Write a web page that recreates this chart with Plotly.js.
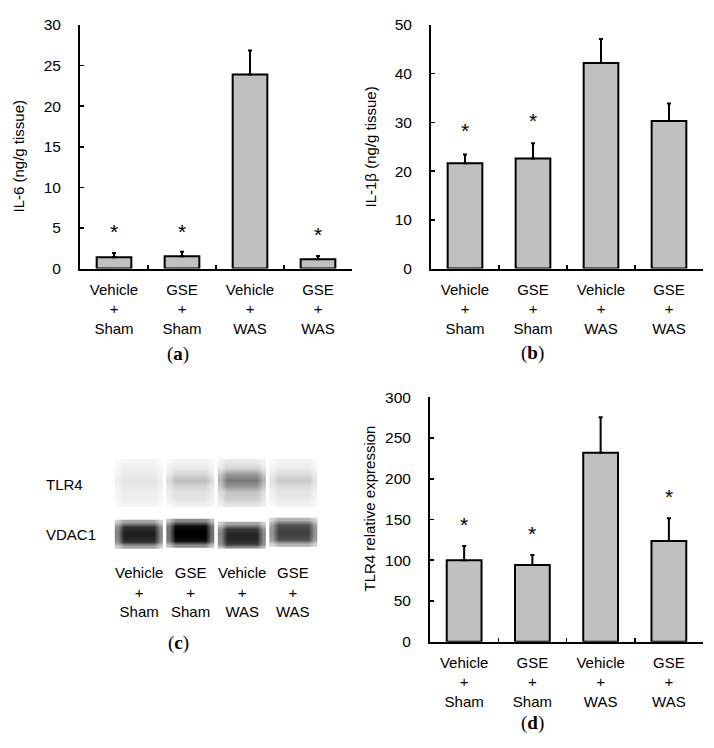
<!DOCTYPE html>
<html>
<head>
<meta charset="utf-8">
<script src="https://cdn.plot.ly/plotly-3.0.1.min.js"></script>
<style>html,body{margin:0;padding:0;background:#fff;}#chart{width:714px;height:748px;}</style>
</head>
<body>
<div id="chart"></div>
<script>
// ---------- data ----------
const categories = ['Vehicle<br>+<br>Sham', 'GSE<br>+<br>Sham', 'Vehicle<br>+<br>WAS', 'GSE<br>+<br>WAS'];

const il6Mean = [1.4, 1.5, 23.9, 1.15];
const il6Err = [0.5, 0.55, 2.95, 0.4];
const il6Star = [5.0, 5.0, null, 4.7];

const il1bMean = [21.6, 22.6, 42.2, 30.3];
const il1bErr = [1.8, 3.1, 4.9, 3.6];
const il1bStar = [29.1, 31.3, null, null];

const tlr4Mean = [100, 94, 232, 123.5];
const tlr4Err = [17.5, 12.4, 43.4, 27.9];
const tlr4Star = [149, 138, null, 183];

const blotLanes = [1, 2, 3, 4];
const blotLaneLabels = categories;
const blotRowLabels = ['TLR4', 'VDAC1'];
// band darkness (0 = white, 1 = black), top to bottom, per lane
const tlr4Band = [
  [0.04, 0.06, 0.08, 0.11, 0.09, 0.07, 0.07, 0.04],
  [0.05, 0.09, 0.16, 0.26, 0.17, 0.12, 0.11, 0.06],
  [0.09, 0.17, 0.40, 0.53, 0.41, 0.23, 0.20, 0.11],
  [0.05, 0.08, 0.14, 0.21, 0.14, 0.10, 0.09, 0.05]
];
const vdac1Band = [
  [0.35, 0.80, 0.88, 0.88, 0.80, 0.35],
  [0.45, 0.95, 1.00, 1.00, 0.95, 0.45],
  [0.35, 0.78, 0.85, 0.85, 0.78, 0.35],
  [0.30, 0.68, 0.74, 0.74, 0.68, 0.30]
];

// ---------- styling / layout helpers ----------
const W = 714, H = 748;
const FONT = '"Liberation Sans", Arial, sans-serif';
const SERIF = '"Liberation Serif", "Times New Roman", serif';
const px = v => v / W;
const py = v => 1 - v / H;

const annotations = [];

function barTraces(mean, err, star, xa, ya) {
  star.forEach((v, i) => {
    if (v == null) return;
    annotations.push({
      text: '*', xref: xa, yref: ya, x: categories[i], y: v, yshift: -4,
      xanchor: 'center', yanchor: 'middle', showarrow: false,
      font: {family: FONT, size: 21, color: '#000'}
    });
  });
  return [{
    type: 'bar', x: categories, y: mean, xaxis: xa, yaxis: ya, width: 0.51,
    marker: {color: '#c0c0c0', line: {color: '#000', width: 2}},
    error_y: {type: 'data', array: err, arrayminus: err.map(() => 0), symmetric: false,
              color: '#000', thickness: 2, width: 2},
    hoverinfo: 'skip', showlegend: false
  }];
}

const traces = [];
traces.push(...barTraces(il6Mean, il6Err, il6Star, 'x', 'y'));
traces.push(...barTraces(il1bMean, il1bErr, il1bStar, 'x2', 'y2'));
traces.push(...barTraces(tlr4Mean, tlr4Err, tlr4Star, 'x4', 'y4'));

// blot (panel c): y axis is in page-pixel rows
const tlr4Rows = [462, 468, 474, 480, 486, 492, 498, 504];
const vdacRowsBase = [522, 526.5, 531.5, 536.5, 541.5, 546];
const vdacShift = [0, -1, 2, -2];
const edgeFactor = [0.55, 1, 1, 0.55];
const colOffsets = [-0.41, -0.3, 0.3, 0.41];
blotLanes.forEach((lane, i) => {
  traces.push({
    type: 'heatmap', xaxis: 'x3', yaxis: 'y3',
    x: colOffsets.map(o => lane + o), y: tlr4Rows,
    z: tlr4Band[i].map(v => edgeFactor.map(f => v * f)),
    zmin: 0, zmax: 1, colorscale: [[0, '#ffffff'], [1, '#000000']],
    showscale: false, zsmooth: 'best', hoverinfo: 'skip'
  });
  traces.push({
    type: 'heatmap', xaxis: 'x3', yaxis: 'y3',
    x: colOffsets.map(o => lane + o), y: vdacRowsBase.map(r => r + vdacShift[i]),
    z: vdac1Band[i].map(v => edgeFactor.map(f => v * f)),
    zmin: 0, zmax: 1, colorscale: [[0, '#ffffff'], [1, '#000000']],
    showscale: false, zsmooth: 'best', hoverinfo: 'skip'
  });
});

function catAxis(x0, x1) {
  return {
    domain: [px(x0), px(x1)], type: 'category',
    range: [-0.5, 3.5], categoryorder: 'array', categoryarray: categories,
    showline: true, linecolor: '#000', linewidth: 2, mirror: false,
    ticks: 'inside', tickson: 'boundaries', ticklen: 4, tickwidth: 1.5, tickcolor: '#000',
    showgrid: false, zeroline: false, fixedrange: true,
    tickfont: {family: FONT, size: 15, color: '#000'}, ticklabelstandoff: 6
  };
}
function valAxis(y0px, y1px, maxv, dt) {
  return {
    domain: [py(y0px), py(y1px)], range: [0, maxv], dtick: dt, tick0: 0,
    showline: true, linecolor: '#000', linewidth: 2,
    ticks: 'inside', ticklen: 4, tickwidth: 1.5, tickcolor: '#000',
    showgrid: false, zeroline: false, fixedrange: true,
    tickfont: {family: FONT, size: 15.5, color: '#000'}, ticklabelstandoff: 14
  };
}

const layout = {
  width: W, height: H, margin: {l: 0, r: 0, t: 0, b: 0},
  paper_bgcolor: '#fff', plot_bgcolor: 'rgba(0,0,0,0)', showlegend: false,
  font: {family: FONT, color: '#000'},
  xaxis: Object.assign(catAxis(80, 352), {anchor: 'y'}),
  yaxis: Object.assign(valAxis(268.5, 25, 30, 5), {anchor: 'x'}),
  xaxis2: Object.assign(catAxis(431, 703), {anchor: 'y2'}),
  yaxis2: Object.assign(valAxis(268.5, 25, 50, 10), {anchor: 'x2'}),
  xaxis4: Object.assign(catAxis(430, 703), {anchor: 'y4'}),
  yaxis4: Object.assign(valAxis(641.7, 397.3, 300, 50), {anchor: 'x4'}),
  xaxis3: {domain: [px(113), px(319)], range: [0.5, 4.5], visible: false, fixedrange: true, anchor: 'y3'},
  yaxis3: {domain: [py(549), py(458)], range: [549, 458], visible: false, fixedrange: true, anchor: 'x3'},
  annotations: annotations
};

// y-axis titles
const yTitles = [
  {text: 'IL-6 (ng/g tissue)', x: 18.5, y: 156},
  {text: 'IL-1β (ng/g tissue)', x: 369.5, y: 147},
  {text: 'TLR4 relative expression', x: 368.5, y: 509}
];
yTitles.forEach(t => annotations.push({
  text: t.text, xref: 'paper', yref: 'paper', x: px(t.x), y: py(t.y),
  xanchor: 'center', yanchor: 'middle', textangle: -90, showarrow: false,
  font: {family: FONT, size: 15, color: '#000'}
}));

// panel labels
[['a', 178, 354], ['b', 532, 353], ['c', 178, 643], ['d', 532, 723]].forEach(p => annotations.push({
  text: '(<b>' + p[0] + '</b>)', xref: 'paper', yref: 'paper', x: px(p[1]), y: py(p[2]),
  xanchor: 'center', yanchor: 'middle', showarrow: false,
  font: {family: SERIF, size: 19, color: '#000'}
}));

// blot row labels
[[blotRowLabels[0], 484], [blotRowLabels[1], 534]].forEach(r => annotations.push({
  text: r[0], xref: 'paper', yref: 'paper', x: px(44), y: py(r[1]),
  xanchor: 'left', yanchor: 'middle', showarrow: false,
  font: {family: FONT, size: 15, color: '#000'}
}));

// blot lane labels
blotLanes.forEach((lane, i) => annotations.push({
  text: blotLaneLabels[i], xref: 'x3', yref: 'paper', x: lane, y: py(562),
  xanchor: 'center', yanchor: 'top', showarrow: false,
  font: {family: FONT, size: 15, color: '#000'}
}));

Plotly.newPlot('chart', traces, layout, {staticPlot: true, displayModeBar: false});
</script>
</body>
</html>
